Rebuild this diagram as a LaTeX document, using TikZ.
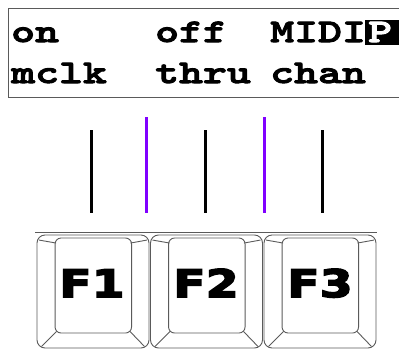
\documentclass[tikz,border=0pt]{standalone}
\usepackage{fontspec}
\usepackage{tikz}
\usetikzlibrary{calc}
\newfontfamily\lcdfont[FakeStretch=1.38,FakeBold=3]{lmmonolt10-bold.otf}
\newfontfamily\keyfont[FakeStretch=1.25,FakeBold=4]{DejaVu Sans}
\definecolor{tickpurple}{RGB}{128,0,255}
\definecolor{edgegray}{RGB}{90,90,90}

\begin{document}
\begin{tikzpicture}[x=1pt, y=-1pt,
    lcd text/.style={anchor=base west, inner sep=0pt, font=\lcdfont\fontsize{33}{33}\selectfont},
    key outer/.style={draw=edgegray, line width=0.9pt, rounded corners=8pt, minimum width=112pt, minimum height=113pt, inner sep=0pt},
    key face/.style={draw=edgegray, line width=0.9pt, rounded corners=6pt, minimum width=76.5pt, minimum height=95pt, inner sep=0pt},
    key label/.style={anchor=base, inner sep=0pt, font=\keyfont\bfseries\fontsize{38}{38}\selectfont},
    tick line/.style={line width=3pt},
    ]
  \useasboundingbox (0,0) rectangle (399,349);

  % display
  \draw[edgegray, line width=1pt] (399,8) -- (8,8) -- (8,97) -- (399,97);
  \fill[black] (365,20) rectangle (399,45);

  \node[lcd text] (on)   at (11,42)  {on};
  \node[lcd text] (off)  at (155,42) {off};
  \node[lcd text] (midi) at (270,42) {MIDI};
  \node[lcd text, text=white] (pg) at (368,42) {P};
  \node[lcd text] (mclk) at (11,83)  {mclk};
  \node[lcd text] (thru) at (155,83) {thru};
  \node[lcd text] (chan) at (270,83) {chan};

  % ticks
  \coordinate (t1a) at (91.7,130);  \coordinate (t1b) at (91.7,213);
  \coordinate (t2a) at (146.7,117); \coordinate (t2b) at (146.7,213);
  \coordinate (t3a) at (205.7,130); \coordinate (t3b) at (205.7,213);
  \coordinate (t4a) at (264,117);   \coordinate (t4b) at (264,213);
  \coordinate (t5a) at (322.7,130); \coordinate (t5b) at (322.7,213);
  \draw[tick line] (t1a) -- (t1b);
  \draw[tick line, tickpurple] (t2a) -- (t2b);
  \draw[tick line] (t3a) -- (t3b);
  \draw[tick line, tickpurple] (t4a) -- (t4b);
  \draw[tick line] (t5a) -- (t5b);

  % keys
  \draw[edgegray, line width=0.9pt] (35,232) -- (377,232);

  \node[key outer] (k1) at (93,291.5) {};
  \node[key outer] (k2) at (206.5,291.5) {};
  \node[key outer] (k3) at (320,291.5) {};
  \node[key face] (f1) at (93.3,285.5) {};
  \node[key face] (f2) at (206.8,285.5) {};
  \node[key face] (f3) at (320.3,285.5) {};

  \draw[edgegray, line width=0.9pt] ($(k1.north west)+(2.5,5.5)$) -- ($(f1.north west)+(1.5,5.5)$);
  \draw[edgegray, line width=0.9pt] ($(k1.north east)+(-2.5,5.5)$) -- ($(f1.north east)+(-1.5,5.5)$);
  \draw[edgegray, line width=0.9pt] ($(k1.south west)+(5,-2)$) -- ($(f1.south west)+(2,-2)$);
  \draw[edgegray, line width=0.9pt] ($(k1.south east)+(-5,-2)$) -- ($(f1.south east)+(-2,-2)$);
  \draw[edgegray, line width=0.9pt] ($(k2.north west)+(2.5,5.5)$) -- ($(f2.north west)+(1.5,5.5)$);
  \draw[edgegray, line width=0.9pt] ($(k2.north east)+(-2.5,5.5)$) -- ($(f2.north east)+(-1.5,5.5)$);
  \draw[edgegray, line width=0.9pt] ($(k2.south west)+(5,-2)$) -- ($(f2.south west)+(2,-2)$);
  \draw[edgegray, line width=0.9pt] ($(k2.south east)+(-5,-2)$) -- ($(f2.south east)+(-2,-2)$);
  \draw[edgegray, line width=0.9pt] ($(k3.north west)+(2.5,5.5)$) -- ($(f3.north west)+(1.5,5.5)$);
  \draw[edgegray, line width=0.9pt] ($(k3.north east)+(-2.5,5.5)$) -- ($(f3.north east)+(-1.5,5.5)$);
  \draw[edgegray, line width=0.9pt] ($(k3.south west)+(5,-2)$) -- ($(f3.south west)+(2,-2)$);
  \draw[edgegray, line width=0.9pt] ($(k3.south east)+(-5,-2)$) -- ($(f3.south east)+(-2,-2)$);

  \node[key label] (l1) at (92,297) {F1};
  \node[key label] (l2) at (206,297) {F2};
  \node[key label] (l3) at (320,297) {F3};
\end{tikzpicture}
\end{document}
